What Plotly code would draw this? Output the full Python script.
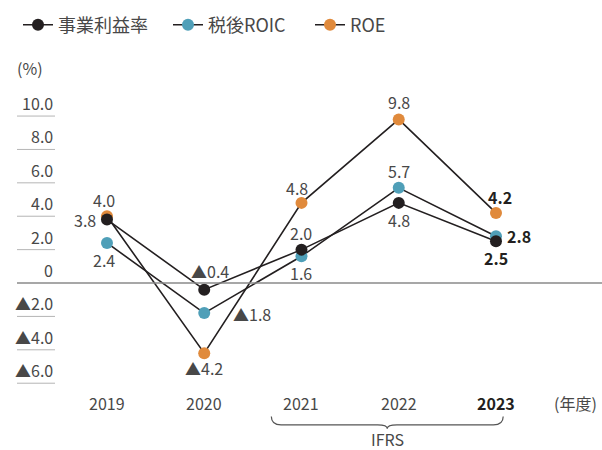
import plotly.graph_objects as go

years = ["2019", "2020", "2021", "2022", "2023"]
biz = [3.8, -0.4, 2.0, 4.8, 2.5]      # 事業利益率
roic = [2.4, -1.8, 1.6, 5.7, 2.8]     # 税後ROIC
roe = [4.0, -4.2, 4.8, 9.8, 4.2]      # ROE
yticks = [10, 8, 6, 4, 2, 0, -2, -4, -6]
names = ["事業利益率", "税後ROIC", "ROE"]

W, H = 602, 450
LINE = "#231f20"
C_BIZ, C_ROIC, C_ROE = "#231f20", "#4f9fb8", "#e08a3c"
TXT = "#484848"
FONT = "Noto Sans CJK JP"
FS = 16

x = list(range(len(years)))
# axis ranges chosen so the plot area fills the whole page
XR = [-1.10, 5.09]
YR = [-10.0, 16.95]

def fmt(v):
    return ("▲" if v < 0 else "") + f"{abs(v):.1f}"

fig = go.Figure()
for ys in (roe, roic, biz):
    fig.add_trace(go.Scatter(x=x, y=ys, mode="lines", line=dict(color=LINE, width=1.6),
                             showlegend=False, hoverinfo="skip"))
for ys, c in ((roe, C_ROE), (roic, C_ROIC), (biz, C_BIZ)):
    fig.add_trace(go.Scatter(x=x, y=ys, mode="markers", marker=dict(color=c, size=12),
                             showlegend=False))
legend_ids = ["legend", "legend2", "legend3"]
for n, c, lg in zip(names, (C_BIZ, C_ROIC, C_ROE), legend_ids):
    fig.add_trace(go.Scatter(x=[None], y=[None], mode="lines+markers", name=n, legend=lg,
                             line=dict(color=LINE, width=1.6), marker=dict(color=c, size=12)))

ann = []
# data label offsets in px: (xshift, yshift)
offs = {
    "biz": [(-22, 0), (6, 19), (0, 17), (0, -17), (0, -17)],
    "roic": [(-3, -17), (48, -1), (0, -17), (0, 17), (23, 0)],
    "roe": [(-3, 16), (0, -15), (-4, 15), (0, 17), (4, 16)],
}
for key, ys in (("biz", biz), ("roic", roic), ("roe", roe)):
    for i, v in enumerate(ys):
        xs, ysh = offs[key][i]
        bold = i == len(ys) - 1
        ann.append(dict(x=i, y=v, text=(f"<b>{fmt(v)}</b>" if bold else fmt(v)),
                        xshift=xs, yshift=ysh, showarrow=False,
                        font=dict(size=FS, color=("#231f20" if bold else TXT), family=FONT)))

# y tick labels with short underlines
shapes = []
for t in yticks:
    ann.append(dict(xref="paper", x=55 / W, y=t, yref="y", xanchor="right", yanchor="bottom",
                    text=fmt(t) if t != 0 else "0", showarrow=False, yshift=-1,
                    font=dict(size=FS, color=TXT, family=FONT)))
    if t != 0:
        shapes.append(dict(type="line", xref="paper", yref="y", x0=17 / W, x1=55 / W, y0=t, y1=t,
                           line=dict(color="#b5b5b5", width=1)))
shapes.append(dict(type="line", xref="paper", yref="y", x0=17 / W, x1=1, y0=0, y1=0,
                   line=dict(color="#8a8a8a", width=1.5)))

# x labels
XLY = -7.2
for i, yr in enumerate(years):
    bold = i == len(years) - 1
    ann.append(dict(x=i, y=XLY, text=f"<b>{yr}</b>" if bold else yr, showarrow=False,
                    font=dict(size=FS, color=("#231f20" if bold else TXT), family=FONT)))
ann.append(dict(x=4.82, y=XLY, text="(年度)", showarrow=False, font=dict(size=FS, color=TXT, family=FONT)))
ann.append(dict(xref="paper", x=15 / W, xanchor="left", y=12.85, text="(%)", showarrow=False,
                font=dict(size=FS, color=TXT, family=FONT)))

# IFRS brace under 2021-2023
x0, x1 = 2 - 0.31, 4 + 0.074
xm = (x0 + x1) / 2
yt, ym, yp, r = -8.0, -8.5, -8.72, 0.1
path = (f"M {x0},{yt} Q {x0},{ym} {x0 + r},{ym} L {xm - r},{ym} Q {xm},{ym} {xm},{yp} "
        f"Q {xm},{ym} {xm + r},{ym} L {x1 - r},{ym} Q {x1},{ym} {x1},{yt}")
shapes.append(dict(type="path", path=path, xref="x", yref="y", line=dict(color="#555", width=1.2)))
ann.append(dict(x=xm, y=-9.35, text="IFRS", showarrow=False, borderpad=0,
                font=dict(size=FS, color=TXT, family=FONT)))

leg_common = dict(orientation="h", xanchor="left", yanchor="middle", y=1 - 25 / H,
                  font=dict(size=18, color=TXT, family=FONT), bgcolor="rgba(0,0,0,0)")
fig.update_layout(
    width=W, height=H, margin=dict(l=0, r=0, t=0, b=0),
    paper_bgcolor="white", plot_bgcolor="white",
    xaxis=dict(range=XR, visible=False, fixedrange=True),
    yaxis=dict(range=YR, visible=False, fixedrange=True),
    showlegend=True,
    legend=dict(x=18 / W, **leg_common),
    legend2=dict(x=168 / W, **leg_common),
    legend3=dict(x=310 / W, **leg_common),
    annotations=ann, shapes=shapes,
    font=dict(family=FONT),
)
fig.write_html("out.html", post_script="document.body.style.margin='0';",
               config={"displayModeBar": False})
